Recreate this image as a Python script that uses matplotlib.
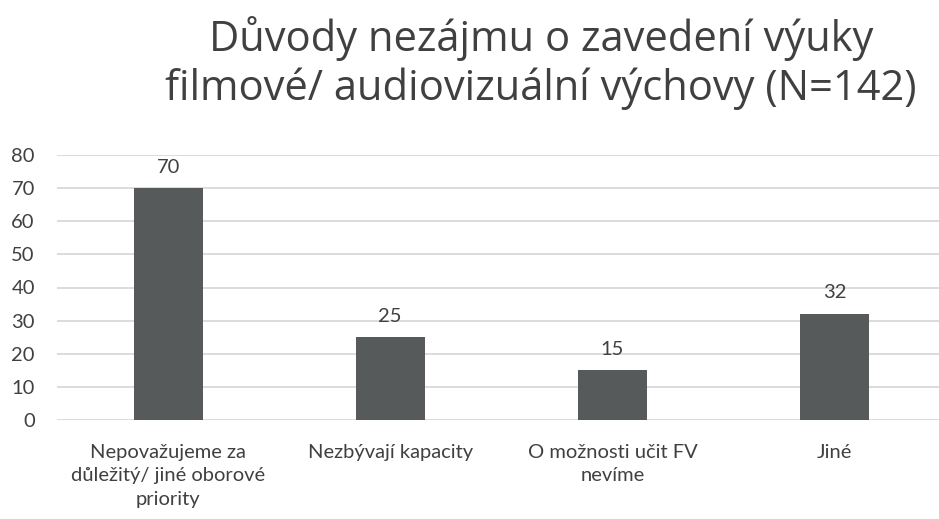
import matplotlib
matplotlib.use("Agg")
import matplotlib.pyplot as plt

categories = ["Nepovažujeme za\ndůležitý/ jiné oborové\npriority", "Nezbývají kapacity", "O možnosti učit FV\nnevíme", "Jiné"]
values = [70, 25, 15, 32]
yticks = [0, 10, 20, 30, 40, 50, 60, 70, 80]
title = "Důvody nezájmu o zavedení výuky\nfilmové/ audiovizuální výchovy (N=142)"

W, H = 939, 519
fig = plt.figure(figsize=(W/100, H/100), dpi=100)
ax = fig.add_axes([57/W, 1-420/H, (939-57)/W, (420-155)/H])
x = range(len(categories))
ax.bar(x, values, width=0.31, color="#575a5b", zorder=3)
ax.set_xlim(-0.5, 3.47)
ax.set_ylim(0, 80)
ax.set_yticks(yticks)
ax.set_yticklabels([str(t) for t in yticks], fontsize=14.5, color="#404040", family="Lato")
ax.set_xticks(list(x))
ax.set_xticklabels(categories, fontsize=14.5, color="#404040", family="Lato", linespacing=1.47)
ax.tick_params(axis="both", length=0)
ax.tick_params(axis="y", pad=16)
ax.tick_params(axis="x", pad=17)
ax.grid(axis="y", color="#d9d9d9", linewidth=1.3, zorder=0)
for s in ax.spines.values():
    s.set_visible(False)
for xi, v in zip(x, values):
    ax.annotate(str(v), (xi, v), xytext=(0, 9), textcoords="offset points",
                ha="center", va="bottom", fontsize=14.5, color="#404040", family="Lato")
fig.text(541/W, 1-16/H, title, ha="center", va="top", fontsize=30, color="#404040",
         family="Open Sans", linespacing=1.2)
fig.savefig("out.png", dpi=100)
